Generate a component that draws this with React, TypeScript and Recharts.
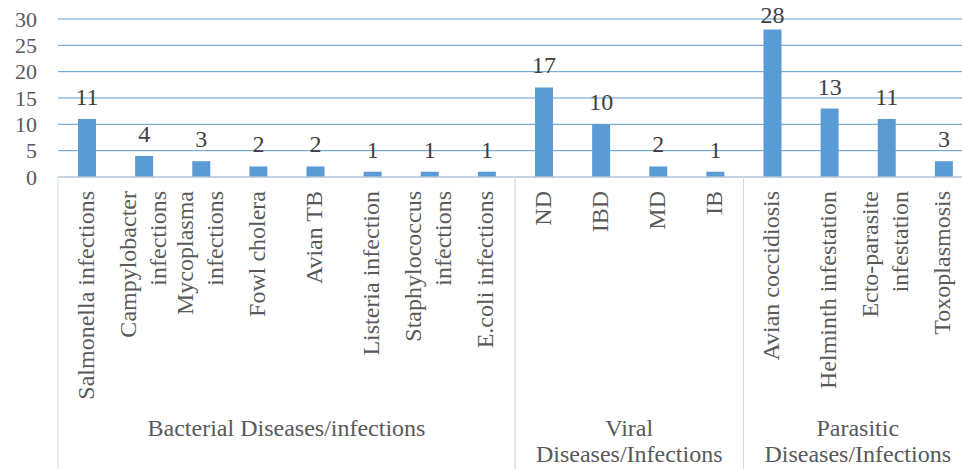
import React from "react";
import { BarChart, Bar, XAxis, YAxis, CartesianGrid, LabelList } from "recharts";

const categories = [
  "Salmonella infections",
  "Campylobacter\ninfections",
  "Mycoplasma\ninfections",
  "Fowl cholera",
  "Avian TB",
  "Listeria infection",
  "Staphylococcus\ninfections",
  "E.coli infections",
  "ND",
  "IBD",
  "MD",
  "IB",
  "Avian coccidiosis",
  "Helminth infestation",
  "Ecto-parasite\ninfestation",
  "Toxoplasmosis",
];
const values = [11, 4, 3, 2, 2, 1, 1, 1, 17, 10, 2, 1, 28, 13, 11, 3];
const groupNames = [
  ["Bacterial Diseases/infections"],
  ["Viral", "Diseases/Infections"],
  ["Parasitic", "Diseases/Infections"],
];
const groupSizes = [8, 4, 4];
const yTicks = [0, 5, 10, 15, 20, 25, 30];

const data = categories.map((c, i) => ({ name: c, value: values[i] }));

const FONT = '"Liberation Serif", "Times New Roman", serif';
const CHART_W = 972;
const CHART_H = 469;
const Y_W = 58;
const XAXIS_H = 292;
const BAND = (CHART_W - Y_W) / categories.length;
const LABEL_GAP = 14;
const LABEL_MIN_BASELINE = 23;

const groupStarts: number[] = [];
{
  let s = 0;
  for (const g of groupSizes) {
    groupStarts.push(s);
    s += g;
  }
}

const XTick = (props: any) => {
  const { x, y, payload, index } = props;
  const lines = String(payload.value).split("\n");
  const n = lines.length;
  const gi = groupStarts.indexOf(index);
  const left = x - BAND / 2;
  return (
    <g>
      <g transform={`translate(${x},${y + 14})`}>
        <text transform="rotate(-90)" textAnchor="end" fontSize={24} fill="#595959" fontFamily={FONT}>
          {lines.map((l, i) => (
            <tspan key={i} x={0} y={(i - (n - 1) / 2) * 30 + 7}>
              {l}
            </tspan>
          ))}
        </text>
      </g>
      {gi >= 0 && (
        <g>
          <line x1={left} x2={left} y1={y} y2={y + XAXIS_H} stroke="#D9D9D9" strokeWidth={1} />
          <line
            x1={left + groupSizes[gi] * BAND}
            x2={left + groupSizes[gi] * BAND}
            y1={y}
            y2={y + XAXIS_H}
            stroke="#D9D9D9"
            strokeWidth={1}
          />
          <text textAnchor="middle" fontSize={24} fill="#595959" fontFamily={FONT}>
            {groupNames[gi].map((l, i) => (
              <tspan key={i} x={left + (groupSizes[gi] * BAND) / 2} y={y + 259 + i * 26}>
                {l}
              </tspan>
            ))}
          </text>
        </g>
      )}
    </g>
  );
};

const ValueLabel = (props: any) => {
  const { x, y, width, value } = props;
  const baseline = Math.max(y - LABEL_GAP, LABEL_MIN_BASELINE);
  return (
    <text
      x={x + width / 2}
      y={baseline}
      textAnchor="middle"
      fontSize={24}
      fill="#404040"
      fontFamily={FONT}
    >
      {value}
    </text>
  );
};

export default function App() {
  return (
    <div
      style={{
        position: "absolute",
        left: 0,
        top: 0,
        width: 962,
        height: 469,
        overflow: "hidden",
        background: "#fff",
      }}
    >
      <BarChart
        width={CHART_W}
        height={CHART_H}
        data={data}
        margin={{ top: 19, right: 0, left: 0, bottom: 0 }}
        barCategoryGap={0}
      >
        <CartesianGrid vertical={false} stroke="#5B9BD5" strokeWidth={1} />
        <YAxis
          width={Y_W}
          domain={[0, 30]}
          ticks={yTicks}
          axisLine={false}
          tickLine={false}
          tickSize={0}
          tickMargin={21}
          interval={0}
          tick={{ fontSize: 22, fill: "#595959", fontFamily: FONT }}
        />
        <XAxis
          dataKey="name"
          height={XAXIS_H}
          interval={0}
          tickLine={false}
          tickSize={0}
          tickMargin={0}
          axisLine={{ stroke: "#D9D9D9" }}
          tick={<XTick />}
        />
        <Bar dataKey="value" fill="#5B9BD5" barSize={18} isAnimationActive={false}>
          <LabelList dataKey="value" content={<ValueLabel />} />
        </Bar>
      </BarChart>
    </div>
  );
}
